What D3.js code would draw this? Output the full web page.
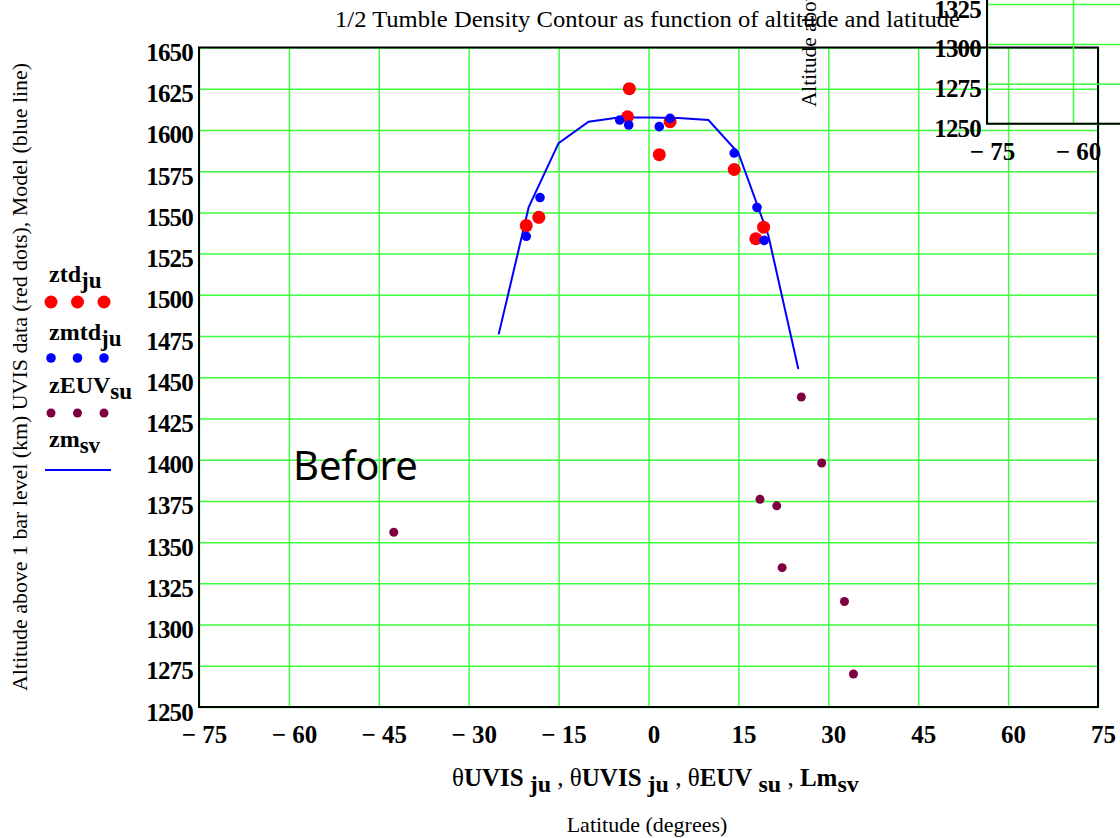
<!DOCTYPE html>
<html>
<head>
<meta charset="utf-8">
<script src="https://cdn.jsdelivr.net/npm/d3@7"></script>
<style>
body { margin: 0; background: #fff; }
</style>
</head>
<body>
<script>
// tick values
var xTicks = [-75, -60, -45, -30, -15, 0, 15, 30, 45, 60, 75];
var yTicks = [1250, 1275, 1300, 1325, 1350, 1375, 1400, 1425, 1450, 1475, 1500, 1525, 1550, 1575, 1600, 1625, 1650];

// ztd_ju : UVIS data (red dots)
var ztdLat = [-3.2, -3.5, 3.6, 1.8, -20.4, -18.3, 14.3, 19.2, 17.9];
var ztdAlt = [1625, 1608, 1605, 1585, 1542, 1547, 1576, 1541, 1534];

// zmtd_ju : model at UVIS latitudes (blue dots)
var zmtdLat = [-4.8, -3.3, 1.8, 3.6, -18.1, -20.4, 14.3, 18.1, 19.3];
var zmtdAlt = [1606, 1603, 1602, 1607, 1559, 1535.5, 1586, 1553, 1533];

// zEUV_su (dark red dots)
var euvLat = [-42.5, 18.6, 21.4, 22.3, 25.5, 28.9, 32.7, 34.2];
var euvAlt = [1356, 1376, 1372, 1334.5, 1438, 1398, 1314, 1270];

// zm_sv : model line
var modelLat = [-25, -20, -15, -10, -5, 0, 5, 10, 15, 20, 25];
var modelAlt = [1476, 1553, 1592, 1605, 1607.5, 1607.5, 1607.3, 1606, 1586, 1536, 1455];

var serif = "'Liberation Serif', 'Times New Roman', serif";
var gridColor = "#3dff3d";

var svg = d3.select("body").append("svg")
    .attr("width", 1120)
    .attr("height", 838)
    .style("background", "#fff");

function fmt(d) {
  return d < 0 ? "\u2212 " + (-d) : "" + d;
}

// draws grid, ticks and box for one graph region
function drawFrame(x, y) {
  var g = svg.append("g");
  var left = x.range()[0], right = x.range()[1];
  var bottom = y.range()[0], top = y.range()[1];

  var gx = g.append("g")
      .attr("transform", "translate(0," + bottom + ")")
      .call(d3.axisBottom(x).tickValues(xTicks).tickSize(-(bottom - top)).tickFormat(fmt));
  gx.select(".domain").remove();
  gx.selectAll("line").attr("stroke", gridColor).attr("stroke-width", 1.5);
  gx.selectAll("text")
      .attr("y", 36).attr("dy", null).attr("x", 5)
      .attr("fill", "#000")
      .style("font-family", serif).style("font-weight", "bold").style("font-size", "25px");

  var gy = g.append("g")
      .attr("transform", "translate(" + left + ",0)")
      .call(d3.axisLeft(y).tickValues(yTicks).tickSize(-(right - left)).tickFormat(fmt));
  gy.select(".domain").remove();
  gy.selectAll("line").attr("stroke", gridColor).attr("stroke-width", 1.5);
  gy.selectAll("text")
      .attr("x", -6).attr("dy", 13)
      .attr("fill", "#000")
      .style("font-family", serif).style("font-weight", "bold").style("font-size", "25px")
      .style("letter-spacing", "-0.8px");

  g.append("rect")
      .attr("x", left).attr("y", top)
      .attr("width", right - left).attr("height", bottom - top)
      .attr("fill", "none").attr("stroke", "#000").attr("stroke-width", 2);
  return g;
}

// main graph
var x = d3.scaleLinear().domain([-75, 75]).range([199, 1098]);
var y = d3.scaleLinear().domain([1250, 1650]).range([707, 47.5]);

// second graph peeking in at top right
var xi = d3.scaleLinear().domain([-75, -60]).range([987, 1073]);
var yi = d3.scaleLinear().domain([1250, 1325]).range([123.7, 4]);
var xi2 = d3.scaleLinear().domain([-75, 75]).range([xi(-75), xi(75)]);
var yi2 = d3.scaleLinear().domain([1250, 1650]).range([yi(1250), yi(1650)]);

drawFrame(x, y);
drawFrame(xi2, yi2);

var ylabText = "Altitude above 1 bar level (km) UVIS data (red dots), Model (blue line)";

svg.append("text")
    .attr("transform", "translate(27,377) rotate(-90)")
    .attr("text-anchor", "middle")
    .attr("textLength", 628).attr("lengthAdjust", "spacingAndGlyphs")
    .style("font-family", serif).style("font-size", "22px")
    .text(ylabText);

svg.append("text")
    .attr("transform", "translate(816,107) rotate(-90)")
    .attr("text-anchor", "start")
    .attr("textLength", 610).attr("lengthAdjust", "spacingAndGlyphs")
    .style("font-family", serif).style("font-size", "22px")
    .text(ylabText);

// title
svg.append("text")
    .attr("x", 335).attr("y", 27)
    .attr("textLength", 625).attr("lengthAdjust", "spacingAndGlyphs")
    .style("font-family", serif).style("font-size", "24px")
    .text("1/2 Tumble Density Contour as function of altitude and latitude");

// model line
var line = d3.line()
    .x(function(d, i) { return x(modelLat[i]); })
    .y(function(d, i) { return y(modelAlt[i]); });

svg.append("path")
    .datum(modelLat)
    .attr("d", line)
    .attr("fill", "none")
    .attr("stroke", "#0000ff")
    .attr("stroke-width", 2);

svg.append("g").selectAll("circle")
    .data(ztdLat)
    .enter().append("circle")
    .attr("cx", function(d) { return x(d); })
    .attr("cy", function(d, i) { return y(ztdAlt[i]); })
    .attr("r", 6.5)
    .attr("fill", "#ff0000");

svg.append("g").selectAll("circle")
    .data(zmtdLat)
    .enter().append("circle")
    .attr("cx", function(d) { return x(d); })
    .attr("cy", function(d, i) { return y(zmtdAlt[i]); })
    .attr("r", 4.8)
    .attr("fill", "#0000ff");

svg.append("g").selectAll("circle")
    .data(euvLat)
    .enter().append("circle")
    .attr("cx", function(d) { return x(d); })
    .attr("cy", function(d, i) { return y(euvAlt[i]); })
    .attr("r", 4.5)
    .attr("fill", "#7f0040");

// text with bold subscripts
function subText(sel, parts, subSize, shift) {
  parts.forEach(function(p) {
    var t = sel.append("tspan").text(p.t);
    if (p.b) t.style("font-weight", "bold");
    if (p.s) {
      t.attr("dy", shift).style("font-size", subSize + "px");
    }
    if (p.back) t.attr("dy", -shift);
  });
}

// legend
var legend = [
  {name: "ztd", sub: "ju", base: 282, kind: "dot", color: "#ff0000", r: 6.5, ky: 302},
  {name: "zmtd", sub: "ju", base: 340, kind: "dot", color: "#0000ff", r: 4.8, ky: 358},
  {name: "zEUV", sub: "su", base: 393, kind: "dot", color: "#7f0040", r: 4.5, ky: 413},
  {name: "zm", sub: "sv", base: 447, kind: "line", color: "#0000ff", ky: 470}
];
legend.forEach(function(l) {
  var t = svg.append("text")
      .attr("x", 49).attr("y", l.base)
      .style("font-family", serif).style("font-size", "24px");
  subText(t, [{t: l.name, b: true}, {t: l.sub, b: true, s: true}], 23, 6);
  if (l.kind === "dot") {
    [51, 77.5, 104].forEach(function(cx) {
      svg.append("circle").attr("cx", cx).attr("cy", l.ky).attr("r", l.r).attr("fill", l.color);
    });
  } else {
    svg.append("line")
        .attr("x1", 45).attr("x2", 111).attr("y1", l.ky).attr("y2", l.ky)
        .attr("stroke", l.color).attr("stroke-width", 2);
  }
});

// x axis label
var xl = svg.append("text")
    .attr("x", 452).attr("y", 786)
    .style("font-family", serif).style("font-size", "25px");
subText(xl, [
  {t: "\u03b8"}, {t: "UVIS", b: true}, {t: " ju", b: true, s: true}, {t: " , ", back: true},
  {t: "\u03b8"}, {t: "UVIS", b: true}, {t: " ju", b: true, s: true}, {t: " , ", back: true},
  {t: "\u03b8"}, {t: "EUV", b: true}, {t: " su", b: true, s: true}, {t: " , ", back: true},
  {t: "Lm", b: true}, {t: "sv", b: true, s: true}
], 24, 6);

svg.append("text")
    .attr("x", 647).attr("y", 832)
    .attr("text-anchor", "middle")
    .style("font-family", serif).style("font-size", "22px")
    .text("Latitude (degrees)");

svg.append("text")
    .attr("x", 293).attr("y", 480)
    .style("font-family", "'Noto Sans', 'Open Sans', sans-serif").style("font-size", "40px")
    .text("Before");
</script>
</body>
</html>
